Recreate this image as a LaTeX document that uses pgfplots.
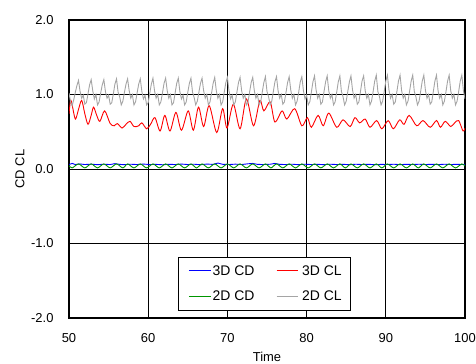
\documentclass[border=0pt]{standalone}
\usepackage{fontspec}
\setmainfont{Liberation Sans}
\usepackage{pgfplots}
\pgfplotsset{compat=1.18}
\definecolor{cdblue}{RGB}{0,0,255}
\definecolor{clred}{RGB}{255,0,0}
\definecolor{cdgreen}{RGB}{0,150,0}
\definecolor{clgray}{RGB}{165,165,165}
\begin{document}
\fontsize{13}{15}\selectfont
\begin{tikzpicture}
\useasboundingbox (-69bp,-46bp) rectangle (407bp,318bp);
\begin{axis}[
  scale only axis, width=396bp, height=298bp,
  at={(0,0)}, anchor=south west,
  xmin=50, xmax=100, ymin=-2, ymax=2,
  xtick={50,60,70,80,90,100}, ytick={-2,-1,0,1,2},
  xticklabels={50,60,70,80,90,100},
  yticklabels={-2.0,-1.0,0.0,1.0,2.0},
  grid=major, grid style={black, line width=0.8bp},
  axis line style={black, line width=1.6bp},
  major tick length=0pt,
  xticklabel style={yshift=-11bp},
  yticklabel style={xshift=-11bp},
  xlabel={Time}, ylabel={CD CL},
  xlabel style={at={(axis description cs:0.5,-0.131)}, anchor=center},
  ylabel style={at={(axis description cs:-0.124,0.5)}, anchor=center},
]
% 3D CD
\addplot[draw=cdblue, line width=0.9bp] coordinates {
(50.0,0.060) (50.4,0.075) (50.8,0.060) (51.4,0.068) (52.0,0.060) (52.8,0.065) (53.6,0.058) (54.4,0.064)
(55.2,0.060) (55.8,0.072) (56.4,0.062) (57.0,0.058) (57.8,0.064) (58.6,0.060) (59.4,0.066) (60.2,0.060)
(61.0,0.062) (61.8,0.057) (62.6,0.063) (63.4,0.060) (64.2,0.066) (65.0,0.060) (65.8,0.064) (66.6,0.058)
(67.4,0.066) (68.2,0.062) (68.8,0.080) (69.4,0.063) (70.2,0.060) (71.0,0.065) (71.8,0.060) (72.6,0.070)
(73.2,0.075) (73.8,0.062) (74.6,0.060) (75.4,0.064) (76.0,0.075) (76.6,0.062) (77.4,0.060) (78.2,0.064)
(79.0,0.058) (79.8,0.064) (80.6,0.060) (81.4,0.063) (82.2,0.058) (83.0,0.064) (83.8,0.060) (84.6,0.063)
(85.4,0.058) (86.2,0.064) (87.0,0.060) (87.8,0.063) (88.6,0.058) (89.4,0.062) (90.2,0.060) (91.0,0.064)
(91.8,0.059) (92.6,0.063) (93.4,0.060) (94.2,0.064) (95.0,0.060) (95.8,0.063) (96.6,0.059) (97.4,0.064)
(98.2,0.060) (99.0,0.063) (99.6,0.060) (100.0,0.062)
};
% 3D CL
\addplot[draw=clred, line width=0.9bp, smooth, tension=0.5] coordinates {
(50.0,0.74) (50.2,0.92) (50.4,0.86) (50.8,0.67) (51.2,0.80) (51.6,0.92) (52.0,0.74) (52.4,0.60)
(52.8,0.72) (53.1,0.83) (53.5,0.72) (53.9,0.64) (54.5,0.78) (55.2,0.61) (55.7,0.58) (56.1,0.61)
(56.7,0.55) (57.2,0.60) (57.7,0.64) (58.2,0.57) (58.8,0.58) (59.2,0.62) (59.8,0.54) (60.3,0.60)
(60.85,0.69) (61.5,0.51) (62.1,0.72) (62.75,0.51) (63.5,0.76) (64.2,0.52) (65.05,0.78) (65.7,0.52)
(66.35,0.83) (67.0,0.57) (67.7,0.85) (68.65,0.49) (69.4,0.81) (69.95,0.55) (70.75,0.87) (71.6,0.54)
(72.4,0.94) (73.3,0.58) (74.1,0.92) (74.6,0.78) (75.4,0.90) (76.0,0.63) (76.9,0.78) (77.5,0.67)
(78.5,0.81) (79.4,0.58) (80.1,0.69) (80.6,0.56) (81.45,0.72) (82.1,0.58) (82.8,0.75) (83.8,0.56)
(84.6,0.66) (85.5,0.57) (86.1,0.69) (86.7,0.62) (87.4,0.67) (88.0,0.56) (88.85,0.65) (89.5,0.54)
(90.3,0.65) (90.95,0.54) (91.75,0.66) (92.3,0.60) (92.95,0.72) (93.9,0.58) (94.7,0.65) (95.6,0.56)
(96.4,0.65) (96.9,0.56) (97.5,0.64) (98.2,0.57) (98.7,0.62) (99.2,0.65) (99.75,0.51) (100.0,0.55)
};
% 2D CD
\addplot[draw=cdgreen, line width=0.9bp, smooth] coordinates {
(50.0,0.045) (50.4,0.015) (51.2,0.068) (52.0,0.015) (52.8,0.068) (53.6,0.015) (54.4,0.068) (55.2,0.015)
(56.0,0.068) (56.8,0.015) (57.4,0.068) (58.2,0.015) (59.0,0.068) (59.8,0.015) (60.6,0.068) (61.4,0.015)
(62.2,0.068) (63.0,0.015) (63.8,0.068) (64.6,0.015) (65.4,0.068) (66.1,0.015) (66.8,0.068) (67.6,0.015)
(68.4,0.068) (69.2,0.015) (70.0,0.068) (70.8,0.015) (71.6,0.068) (72.4,0.015) (73.2,0.068) (74.0,0.015)
(74.8,0.068) (75.5,0.015) (76.2,0.068) (77.0,0.015) (77.8,0.068) (78.6,0.015) (79.4,0.068) (80.2,0.015)
(81.0,0.068) (81.8,0.015) (82.6,0.068) (83.4,0.015) (84.2,0.068) (84.9,0.015) (85.6,0.068) (86.4,0.015)
(87.2,0.068) (88.0,0.015) (88.8,0.068) (89.5,0.015) (90.2,0.068) (91.0,0.015) (91.8,0.068) (92.6,0.015)
(93.4,0.068) (94.1,0.015) (94.8,0.068) (95.6,0.015) (96.4,0.068) (97.2,0.015) (98.0,0.068) (98.8,0.015)
(99.6,0.068) (100.0,0.040)
};
% 2D CL
\addplot[draw=clgray, line width=0.9bp] coordinates {
(50.0,1.02) (50.2,0.90) (50.4,0.85) (50.6,0.93) (50.8,1.03) (51.0,1.12)
(51.2,1.19) (51.4,1.04) (51.6,0.95) (51.8,0.99) (52.0,0.87) (52.2,0.89) (52.4,1.01) (52.6,1.13)
(52.8,1.20) (53.0,1.05) (53.2,0.94) (53.4,1.00) (53.6,0.86) (53.8,0.90) (54.0,1.02) (54.2,1.13)
(54.4,1.20) (54.6,1.04) (54.8,0.95) (55.0,0.99) (55.2,0.87) (55.4,0.89) (55.6,1.01) (55.8,1.14)
(56.0,1.21) (56.2,1.03) (56.4,0.97) (56.6,0.86) (56.8,0.91) (57.0,1.03) (57.2,1.14)
(57.4,1.21) (57.6,1.05) (57.8,0.95) (58.0,1.00) (58.2,0.86) (58.4,0.90) (58.6,1.02) (58.8,1.14)
(59.0,1.21) (59.2,1.04) (59.4,0.94) (59.6,0.99) (59.8,0.86) (60.0,0.89) (60.2,1.02) (60.4,1.14)
(60.6,1.22) (60.8,1.05) (61.0,0.95) (61.2,1.00) (61.4,0.86) (61.6,0.90) (61.8,1.02) (62.0,1.15)
(62.2,1.22) (62.4,1.05) (62.6,0.95) (62.8,1.00) (63.0,0.86) (63.2,0.89) (63.4,1.02) (63.6,1.15)
(63.8,1.22) (64.0,1.04) (64.2,0.94) (64.4,0.99) (64.6,0.86) (64.8,0.90) (65.0,1.03) (65.2,1.15)
(65.4,1.22) (65.6,1.03) (65.8,0.96) (66.0,0.86) (66.2,0.91) (66.4,1.03) (66.6,1.15)
(66.8,1.22) (67.0,1.05) (67.2,0.95) (67.4,1.00) (67.6,0.86) (67.8,0.90) (68.0,1.02) (68.2,1.15)
(68.4,1.23) (68.6,1.05) (68.8,0.95) (69.0,1.00) (69.2,0.86) (69.4,0.90) (69.6,1.03) (69.8,1.16)
(70.0,1.23) (70.2,1.05) (70.4,0.94) (70.6,0.99) (70.8,0.86) (71.0,0.90) (71.2,1.03) (71.4,1.16)
(71.6,1.23) (71.8,1.05) (72.0,0.95) (72.2,1.00) (72.4,0.86) (72.6,0.90) (72.8,1.03) (73.0,1.16)
(73.2,1.23) (73.4,1.05) (73.6,0.95) (73.8,1.00) (74.0,0.86) (74.2,0.90) (74.4,1.03) (74.6,1.16)
(74.8,1.24) (75.0,1.04) (75.2,0.97) (75.4,0.86) (75.6,0.91) (75.8,1.04) (76.0,1.17)
(76.2,1.24) (76.4,1.05) (76.6,0.95) (76.8,1.00) (77.0,0.87) (77.2,0.90) (77.4,1.03) (77.6,1.16)
(77.8,1.24) (78.0,1.06) (78.2,0.95) (78.4,1.00) (78.6,0.86) (78.8,0.91) (79.0,1.03) (79.2,1.17)
(79.4,1.24) (79.6,1.05) (79.8,0.94) (80.0,0.99) (80.2,0.86) (80.4,0.90) (80.6,1.03) (80.8,1.17)
(81.0,1.25) (81.2,1.06) (81.4,0.95) (81.6,1.00) (81.8,0.87) (82.0,0.90) (82.2,1.04) (82.4,1.17)
(82.6,1.25) (82.8,1.05) (83.0,0.95) (83.2,1.00) (83.4,0.86) (83.6,0.90) (83.8,1.03) (84.0,1.17)
(84.2,1.25) (84.4,1.04) (84.6,0.97) (84.8,0.86) (85.0,0.91) (85.2,1.04) (85.4,1.17)
(85.6,1.25) (85.8,1.06) (86.0,0.95) (86.2,1.00) (86.4,0.87) (86.6,0.90) (86.8,1.04) (87.0,1.18)
(87.2,1.25) (87.4,1.05) (87.6,0.95) (87.8,1.00) (88.0,0.86) (88.2,0.91) (88.4,1.04) (88.6,1.18)
(88.8,1.26) (89.0,1.04) (89.2,0.97) (89.4,0.86) (89.6,0.91) (89.8,1.04) (90.0,1.18)
(90.2,1.26) (90.4,1.06) (90.6,0.95) (90.8,1.00) (91.0,0.87) (91.2,0.90) (91.4,1.04) (91.6,1.18)
(91.8,1.26) (92.0,1.05) (92.2,0.95) (92.4,1.00) (92.6,0.86) (92.8,0.91) (93.0,1.04) (93.2,1.18)
(93.4,1.26) (93.6,1.04) (93.8,0.97) (94.0,0.86) (94.2,0.91) (94.4,1.04) (94.6,1.18)
(94.8,1.26) (95.0,1.06) (95.2,0.95) (95.4,1.00) (95.6,0.87) (95.8,0.90) (96.0,1.04) (96.2,1.18)
(96.4,1.26) (96.6,1.05) (96.8,0.95) (97.0,1.00) (97.2,0.86) (97.4,0.91) (97.6,1.04) (97.8,1.18)
(98.0,1.26) (98.2,1.05) (98.4,0.95) (98.6,1.00) (98.8,0.86) (99.0,0.91) (99.2,1.04) (99.4,1.18)
(99.6,1.26) (99.8,1.05) (100.0,0.94)
};
% legend box
\draw[black, line width=0.7bp, fill=white] (rel axis cs:0.2753,0.0268) rectangle (rel axis cs:0.7096,0.2047);
\draw[cdblue, line width=1bp] (rel axis cs:0.3030,0.1587) -- (rel axis cs:0.3578,0.1587);
\draw[clred, line width=1bp] (rel axis cs:0.5245,0.1587) -- (rel axis cs:0.5790,0.1587);
\draw[cdgreen, line width=1bp] (rel axis cs:0.3030,0.0738) -- (rel axis cs:0.3578,0.0738);
\draw[clgray, line width=1bp] (rel axis cs:0.5245,0.0738) -- (rel axis cs:0.5790,0.0738);
\node[anchor=west, inner sep=0pt, font=\fontsize{14}{16}\selectfont] at (rel axis cs:0.3624,0.1587) {3D CD};
\node[anchor=west, inner sep=0pt, font=\fontsize{14}{16}\selectfont] at (rel axis cs:0.5884,0.1587) {3D CL};
\node[anchor=west, inner sep=0pt, font=\fontsize{14}{16}\selectfont] at (rel axis cs:0.3624,0.0738) {2D CD};
\node[anchor=west, inner sep=0pt, font=\fontsize{14}{16}\selectfont] at (rel axis cs:0.5884,0.0738) {2D CL};
\end{axis}
\end{tikzpicture}
\end{document}
